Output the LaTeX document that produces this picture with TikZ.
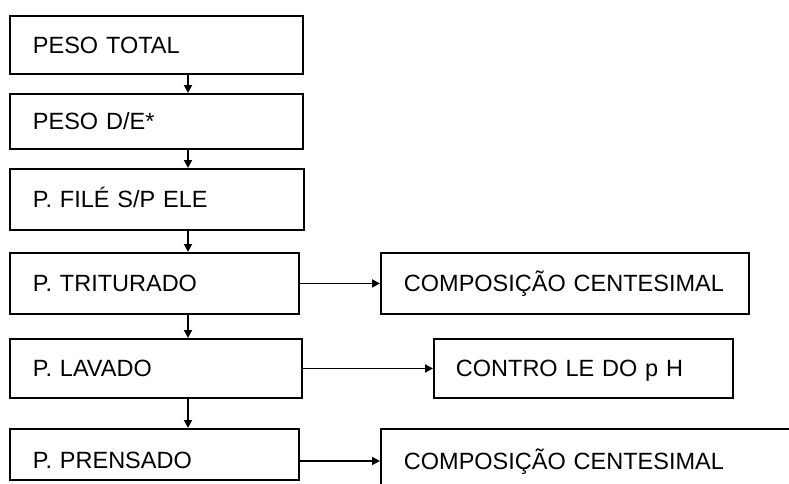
\documentclass[tikz,border=0pt]{standalone}
\usepackage{fontspec}
\setmainfont{Liberation Sans}
\usetikzlibrary{arrows.meta}
\begin{document}
\begin{tikzpicture}[x=1pt,y=-1pt,
  box/.style={draw, line width=1.9pt, anchor=north west, align=left,
    inner xsep=23pt, inner ysep=0pt, text height=17pt, text depth=0pt,
    font=\fontsize{23.5}{26}\selectfont},
  arr/.style={line width=1.9pt, -{Triangle[length=8pt,width=8pt]}}]
\useasboundingbox (0,0) rectangle (789,483);
\fill[white] (0,0) rectangle (789,483);
\clip (0,0) rectangle (789,483);
\node[box, text width=247pt, minimum height=58pt] (b1) at (9,15) {PESO TOTAL};
\node[box, text width=247pt, minimum height=55pt] (b2) at (9,93) {PESO D/E*};
\node[box, text width=248pt, minimum height=61pt] (b3) at (9,168) {P. FILÉ S/P ELE};
\node[box, text width=243pt, minimum height=61pt] (b4) at (9,252) {P. TRITURADO};
\node[box, text width=246pt, minimum height=59pt] (b5) at (9,338) {P. LAVADO};
\node[box, text width=243pt, minimum height=51pt, text height=28pt] (b6) at (9,428) {P. PRENSADO};
\node[box, text width=322pt, minimum height=61pt] (r1) at (380,252) {COMPOSIÇÃO CENTESIMAL};
\node[box, inner xsep=22pt, text width=255pt, minimum height=59pt] (r2) at (433,338) {CONTRO LE DO p H};
\node[box, text width=404pt, minimum height=64pt] (r3) at (380,428) {COMPOSIÇÃO CENTESIMAL};
\draw[arr] ([xshift=179pt]b1.south west) -- ([xshift=179pt]b2.north west);
\draw[arr] ([xshift=179pt]b2.south west) -- ([xshift=179pt]b3.north west);
\draw[arr] ([xshift=179pt]b3.south west) -- ([xshift=179pt]b4.north west);
\draw[arr] ([xshift=179pt]b4.south west) -- ([xshift=179pt]b5.north west);
\draw[arr] ([xshift=179pt]b5.south west) -- ([xshift=179pt]b6.north west);
\draw[arr] (b4.east) -- (r1.west);
\draw[arr] (b5.east) -- (r2.west);
\draw[arr] ([yshift=-6.5pt]b6.east) -- (r3.west);
\end{tikzpicture}
\end{document}
